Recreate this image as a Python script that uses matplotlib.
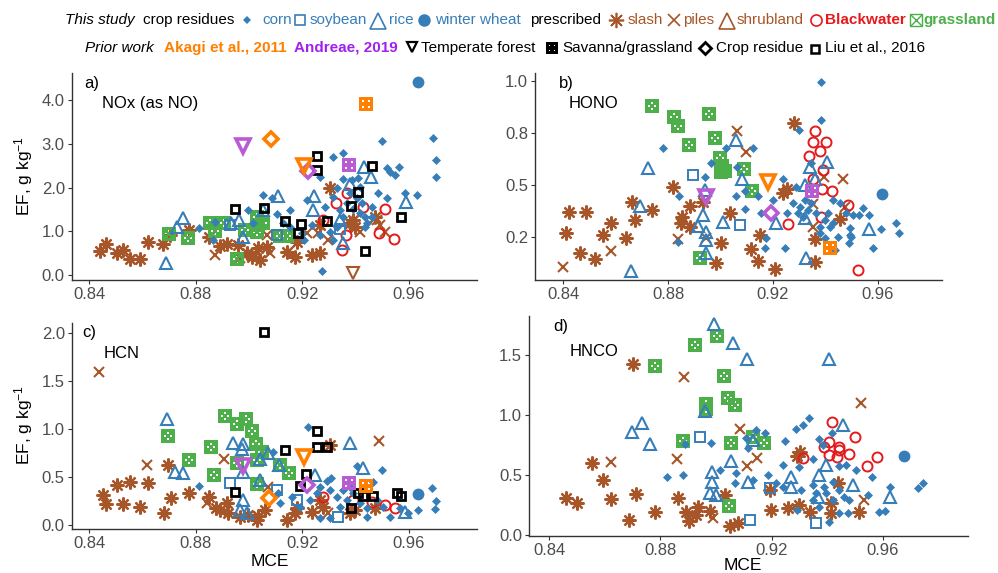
import matplotlib
matplotlib.use('Agg')
import matplotlib.pyplot as plt
from matplotlib.path import Path
from matplotlib.markers import MarkerStyle

plt.rcParams['font.family'] = ['Liberation Sans', 'DejaVu Sans']
plt.rcParams['mathtext.fontset'] = 'custom'
plt.rcParams['mathtext.rm'] = 'Liberation Sans'
plt.rcParams['mathtext.it'] = 'Liberation Sans:italic'
plt.rcParams['mathtext.bf'] = 'Liberation Sans:bold'

# ---------------- data (MCE, EF g/kg) ----------------
# Panel a) NOx (as NO)
a_corn = [(0.8814,1.07),(0.8873,1.22),(0.8866,0.80),(0.8998,1.49),(0.9051,1.83),(0.9085,1.75),(0.9104,1.39),
          (0.9154,1.49),(0.9198,0.95),(0.9206,0.80),(0.9216,1.71),(0.9235,1.14),(0.9266,2.25),(0.9273,0.10),
          (0.9285,1.56),(0.9314,2.70),(0.9354,2.78),(0.9354,2.19),(0.9385,2.17),(0.9410,2.21),(0.9416,2.02),
          (0.9316,1.79),(0.9329,1.98),(0.9498,3.07),(0.9516,2.44),(0.9529,2.36),(0.9548,2.29),(0.9564,2.46),
          (0.9485,1.87),(0.9516,1.75),(0.9585,1.87),(0.9629,1.83),(0.9689,3.14),(0.9701,2.63),(0.9701,2.25),
          (0.9460,1.56),(0.9341,1.49),(0.9366,1.64),(0.9391,1.52),(0.9416,1.41),(0.9435,1.33),(0.9441,1.18),
          (0.9423,1.64),(0.9329,1.10),(0.9304,0.99),(0.9266,0.91),(0.9404,1.75),(0.9354,1.33),(0.9379,1.87),
          (0.9460,1.33),(0.9435,1.10),(0.9154,1.10),(0.9129,1.18),(0.9016,1.18),(0.9316,0.80)]
a_soybean = [(0.8929,1.14),(0.9104,0.91),(0.9341,1.05)]
a_rice = [(0.8688,0.27),(0.8751,1.31),(0.8729,1.10),(0.8964,1.26),(0.8976,0.88),(0.8931,1.18),(0.9110,1.81),
          (0.9054,1.49),(0.9244,1.81),(0.9241,1.49),(0.9431,2.46),(0.9458,2.23),(0.9379,2.08),(0.9341,1.26),
          (0.9354,0.74),(0.9589,1.66)]
a_wheat = [(0.9635,4.40)]
a_slash = [(0.8441,0.56),(0.8464,0.71),(0.8504,0.50),(0.8526,0.57),(0.8554,0.36),(0.8591,0.36),(0.8620,0.76),
           (0.8679,0.72),(0.8704,0.91),(0.8776,1.04),(0.8851,0.88),(0.8891,0.66),(0.8916,0.72),(0.8960,0.69),
           (0.8991,0.50),(0.9013,0.42),(0.9035,0.61),(0.9066,0.65),(0.9041,0.34),(0.9141,0.53),(0.9173,0.42),
           (0.9179,0.76),(0.9235,0.46),(0.9266,0.50),(0.9266,1.14),(0.9304,1.98),(0.9379,1.18),(0.9391,1.26),
           (0.9398,1.10),(0.9473,1.33)]
a_piles = [(0.8873,0.46),(0.9066,0.91),(0.9079,0.51),(0.9216,0.95),(0.9260,0.95),(0.9298,0.80),(0.9416,0.98),
           (0.9491,1.14),(0.9510,0.99),(0.8966,0.38),(0.9479,1.26)]
a_shrub = [(0.9391,0.05)]
a_blackwater = [(0.9348,0.57),(0.9364,0.91),(0.9326,1.64),(0.9366,1.87),(0.9429,1.56),(0.9510,1.52),
                (0.9489,0.97),(0.9545,0.82),(0.9279,1.26)]
a_grass = [(0.8701,0.93),(0.8773,0.85),(0.8854,1.18),(0.8873,1.01),(0.8906,1.20),(0.8954,0.36),(0.8985,1.03),
           (0.9029,1.33),(0.9035,1.14),(0.9054,1.18),(0.9029,0.99),(0.9116,0.90),(0.9141,0.89)]
a_liu = [(0.9254,2.73),(0.9254,2.40),(0.9463,2.49),(0.9410,1.89),(0.9381,1.58),(0.8948,1.50),(0.9058,1.54),
         (0.9135,1.24),(0.9195,1.17),(0.9185,0.95),(0.9294,1.24),(0.9570,1.32),(0.9435,0.56)]
a_akagi = {'forest': (0.9206,2.49), 'savanna': (0.9438,3.90), 'crop': (0.9081,3.11)}
a_andreae = {'forest': (0.8976,2.95), 'savanna': (0.9375,2.51), 'crop': (0.9223,2.38)}

# Panel b) HONO
b_corn = [(0.9384,0.992),(0.9384,0.811),(0.9298,0.763),(0.8781,0.675),(0.8842,0.447),(0.8838,0.226),(0.8940,0.535),
          (0.8965,0.606),(0.9022,0.675),(0.9063,0.587),(0.9124,0.675),(0.9058,0.446),(0.9092,0.383),(0.9092,0.470),
          (0.9143,0.447),(0.9156,0.362),(0.9171,0.194),(0.9175,0.242),(0.9200,0.426),(0.9238,0.530),(0.9247,0.194),
          (0.9253,0.362),(0.9289,0.490),(0.9276,0.410),(0.9302,0.394),(0.9321,0.426),(0.9333,0.378),(0.9346,0.410),
          (0.9365,0.362),(0.9346,0.603),(0.9314,0.346),(0.9295,0.362),(0.9378,0.298),(0.9397,0.330),(0.9378,0.266),
          (0.9397,0.242),(0.9416,0.298),(0.9429,0.426),(0.9410,0.362),(0.9429,0.314),(0.9448,0.250),(0.9454,0.410),
          (0.9490,0.218),(0.9492,0.290),(0.9505,0.354),(0.9498,0.250),(0.9528,0.354),(0.9543,0.386),(0.9566,0.354),
          (0.9581,0.194),(0.9613,0.285),(0.9667,0.314),(0.9680,0.266),(0.9435,0.186),(0.9492,0.258),(0.9479,0.362)]
b_soybean = [(0.8895,0.546),(0.9076,0.306)]
b_rice = [(0.8724,0.583),(0.8692,0.399),(0.8657,0.085),(0.8942,0.474),(0.8933,0.354),(0.8914,0.303),(0.8944,0.274),
          (0.8944,0.234),(0.8944,0.173),(0.9010,0.322),(0.9060,0.715),(0.9081,0.530),(0.9213,0.314),(0.9321,0.498),
          (0.9340,0.587),(0.9359,0.530),(0.9406,0.611),(0.9327,0.146),(0.9321,0.338),(0.9566,0.285)]
b_wheat = [(0.9617,0.454)]
b_slash = [(0.8423,0.370),(0.8413,0.266),(0.8489,0.370),(0.8463,0.173),(0.8521,0.141),(0.8552,0.258),(0.8584,0.314),
           (0.8641,0.242),(0.8664,0.415),(0.8673,0.330),(0.8739,0.378),(0.8819,0.487),(0.8883,0.397),(0.8855,0.346),
           (0.8851,0.314),(0.8883,0.298),(0.8933,0.418),(0.8984,0.122),(0.9003,0.221),(0.9035,0.362),(0.9117,0.189),
           (0.9149,0.258),(0.9143,0.133),(0.9206,0.093),(0.9238,0.458),(0.9253,0.482),(0.9279,0.795),(0.9359,0.130),
           (0.9359,0.239),(0.9454,0.333)]
b_piles = [(0.8398,0.106),(0.8582,0.183),(0.8838,0.237),(0.8946,0.242),(0.9063,0.758),(0.9098,0.659),(0.9352,0.407),
           (0.9352,0.298),(0.9393,0.538),(0.9467,0.526),(0.9473,0.394)]
b_blackwater = [(0.9359,0.760),(0.9352,0.707),(0.9401,0.707),(0.9380,0.663),(0.9337,0.638),(0.9391,0.571),
                (0.9352,0.530),(0.9388,0.482),(0.9426,0.471),(0.9384,0.343),(0.9487,0.402),(0.9258,0.309),(0.9524,0.090)]
b_grass = [(0.8739,0.878),(0.8822,0.824),(0.8838,0.782),(0.8879,0.691),(0.8956,0.840),(0.8980,0.723),(0.8997,0.631),
           (0.9003,0.562),(0.9018,0.567),(0.9007,0.590),(0.9090,0.578),(0.9121,0.470),(0.8921,0.146)]
b_akagi = {'forest': (0.9182,0.511), 'savanna': (0.9416,0.194)}
b_andreae = {'forest': (0.8946,0.442), 'savanna': (0.9350,0.470), 'crop': (0.9194,0.365)}

# Panel c) HCN
c_corn = [(0.8814,0.410),(0.9223,1.024),(0.9091,0.764),(0.9404,0.618),(0.9498,0.573),(0.9688,0.382),(0.9701,0.250),
          (0.9698,0.163),(0.9635,0.156),(0.9598,0.122),(0.9291,0.458),(0.9308,0.486),(0.9160,0.295),(0.9110,0.330),
          (0.9116,0.226),(0.9191,0.191),(0.9229,0.260),(0.9254,0.330),(0.9266,0.069),(0.9304,0.365),(0.9329,0.295),
          (0.9341,0.191),(0.9354,0.365),(0.9366,0.260),(0.9391,0.330),(0.9416,0.226),(0.9441,0.087),(0.9441,0.174),
          (0.9466,0.451),(0.9479,0.260),(0.9504,0.191),(0.9529,0.087),(0.9566,0.174),(0.9304,0.069),(0.9379,0.399),
          (0.9266,0.399)]
c_soybean = [(0.8929,0.441),(0.9104,0.365),(0.9333,0.087),(0.9179,0.260)]
c_rice = [(0.8691,1.101),(0.8723,0.549),(0.8754,0.538),(0.8941,0.858),(0.8976,0.844),(0.8973,0.792),(0.8979,0.556),
          (0.8979,0.260),(0.8966,0.156),(0.8991,0.122),(0.9041,0.469),(0.9041,0.684),(0.9073,0.753),(0.9114,0.625),
          (0.9248,0.521),(0.9379,0.851),(0.9429,0.590),(0.9585,0.139)]
c_wheat = [(0.9635,0.323)]
c_slash = [(0.8451,0.313),(0.8464,0.219),(0.8504,0.417),(0.8529,0.219),(0.8554,0.451),(0.8591,0.191),(0.8623,0.441),
           (0.8681,0.128),(0.8698,0.625),(0.8706,0.285),(0.8775,0.330),(0.8851,0.295),(0.8876,0.174),(0.8891,0.156),
           (0.8916,0.226),(0.8923,0.122),(0.8966,0.087),(0.8998,0.104),(0.9029,0.052),(0.9035,0.094),(0.9060,0.156),
           (0.9141,0.052),(0.9173,0.122),(0.9179,0.174),(0.9235,0.139),(0.9266,0.260),(0.9276,0.191),(0.9304,0.833),
           (0.9379,0.122),(0.9398,0.156),(0.9473,0.174)]
c_piles = [(0.8438,1.597),(0.8616,0.625),(0.8906,0.684),(0.9489,0.878),(0.9073,0.399),(0.8844,0.226),(0.9298,0.122)]
c_blackwater = [(0.9279,0.295),(0.9391,0.260),(0.9460,0.243),(0.9510,0.208),(0.9548,0.174)]
c_grass = [(0.8698,0.927),(0.8775,0.677),(0.8858,0.816),(0.8870,0.521),(0.8910,1.135),(0.8954,1.052),(0.8989,1.104),
           (0.9013,0.983),(0.9026,0.844),(0.9048,0.764),(0.9029,0.677),(0.8954,0.649),(0.9029,0.427),(0.9116,0.625),
           (0.9151,0.538)]
c_liu = [(0.9056,2.014),(0.9254,0.983),(0.9254,0.816),(0.9294,0.816),(0.9135,0.781),(0.9214,0.528),(0.9191,0.410),
         (0.8948,0.347),(0.9410,0.330),(0.9429,0.302),(0.9464,0.302),(0.9383,0.174),(0.9556,0.330),(0.9570,0.302)]
c_akagi = {'forest': (0.9206,0.712), 'savanna': (0.9438,0.406), 'crop': (0.9076,0.285)}
c_andreae = {'forest': (0.8976,0.618), 'savanna': (0.9375,0.441), 'crop': (0.9219,0.417)}

# Panel d) HNCO
d_corn = [(0.8825,0.486),(0.8881,0.500),(0.8887,0.758),(0.8983,0.769),(0.9013,0.542),(0.9073,0.519),(0.9067,0.436),
          (0.9109,0.806),(0.9115,0.722),(0.9143,0.875),(0.9175,0.847),(0.9135,0.458),(0.9187,0.500),(0.9217,0.431),
          (0.9241,0.583),(0.9247,0.786),(0.9289,0.881),(0.9313,0.917),(0.9334,0.972),(0.9298,0.564),(0.9307,0.375),
          (0.9292,0.208),(0.9349,0.631),(0.9372,0.797),(0.9384,0.750),(0.9417,0.853),(0.9468,0.583),(0.9442,0.578),
          (0.9504,0.542),(0.9562,0.481),(0.9624,0.397),(0.9744,0.436),(0.9726,0.389),(0.9586,0.189),(0.9606,0.203),
          (0.9546,0.333),(0.9408,0.111),(0.9444,0.181),(0.9474,0.181),(0.9349,0.292),(0.9360,0.347),(0.9390,0.403),
          (0.9420,0.444),(0.9444,0.375),(0.9462,0.319),(0.9480,0.292),(0.9396,0.347),(0.9372,0.236),(0.9420,0.292),
          (0.9241,0.403),(0.9349,0.417)]
d_soybean = [(0.8941,0.819),(0.9123,0.125),(0.9360,0.103),(0.9195,0.394)]
d_rice = [(0.8992,1.756),(0.9061,1.603),(0.9111,1.467),(0.9408,1.467),(0.8959,1.033),(0.8698,0.861),(0.8734,0.931),
          (0.8762,0.758),(0.9135,0.792),(0.9053,0.617),(0.8987,0.528),(0.8987,0.444),(0.8980,0.347),(0.8999,0.333),
          (0.9115,0.444),(0.9271,0.486),(0.9271,0.403),(0.9370,0.500),(0.9396,0.583),(0.9456,0.917),(0.9492,0.417),
          (0.9624,0.319),(0.9366,0.319)]
d_wheat = [(0.9675,0.661)]
d_slash = [(0.8702,1.425),(0.8460,0.306),(0.8502,0.269),(0.8556,0.603),(0.8594,0.458),(0.8624,0.297),(0.8687,0.125),
           (0.8711,0.339),(0.8780,0.194),(0.8863,0.311),(0.8893,0.194),(0.8903,0.117),(0.8929,0.167),(0.8935,0.231),
           (0.8977,0.203),(0.9031,0.333),(0.9049,0.075),(0.9079,0.103),(0.9199,0.208),(0.9193,0.375),(0.9259,0.222),
           (0.9297,0.250),(0.9301,0.694),(0.9292,0.658),(0.9337,0.194),(0.9414,0.264),(0.9414,0.181),(0.9438,0.431),
           (0.9513,0.194)]
d_piles = [(0.8885,1.314),(0.8622,0.611),(0.8861,0.631),(0.9085,0.883),(0.9111,0.578),(0.9148,0.639),(0.9522,1.103),
           (0.8989,0.139),(0.9534,0.292)]
d_blackwater = [(0.9417,0.944),(0.9408,0.778),(0.9390,0.736),(0.9442,0.736),(0.9444,0.708),(0.9408,0.667),
                (0.9435,0.653),(0.9478,0.675),(0.9501,0.817),(0.9580,0.647),(0.9544,0.578),(0.9313,0.639)]
d_grass = [(0.8780,1.408),(0.8923,1.583),(0.9004,1.658),(0.9028,1.325),(0.9044,1.139),(0.9067,1.083),(0.8965,1.092),
           (0.8965,1.047),(0.8881,0.783),(0.9053,0.769),(0.9135,0.814),(0.9172,0.764),(0.9046,0.244)]

panel_letters = ['a)', 'b)', 'c)', 'd)']
panel_species = ['NOx (as NO)', 'HONO', 'HCN', 'HNCO']
x_ticks = [0.84, 0.88, 0.92, 0.96]
x_ticklabels = ['0.84', '0.88', '0.92', '0.96']
a_yticks = [0.0, 1.0, 2.0, 3.0, 4.0]; a_yticklabels = ['0.0', '1.0', '2.0', '3.0', '4.0']
b_yticks = [0.25, 0.5, 0.75, 1.0];   b_yticklabels = ['0.2', '0.5', '0.8', '1.0']
c_yticks = [0.0, 0.5, 1.0, 1.5, 2.0]; c_yticklabels = ['0.0', '0.5', '1.0', '1.5', '2.0']
d_yticks = [0.0, 0.5, 1.0, 1.5];     d_yticklabels = ['0.0', '0.5', '1.0', '1.5']

# ---------------- styles ----------------
BLUE = '#377EB8'; BROWN = '#A65628'; RED = '#E41A1C'; GREEN = '#4DAF4A'
ORANGE = '#FF7F00'; PURPLE_M = '#B95CD3'; PURPLE_T = '#A020F0'; GREY = '#4D4D4D'

def holed_square(holes, h=0.14):
    verts = [(-1, -1), (1, -1), (1, 1), (-1, 1), (-1, -1)]
    codes = [Path.MOVETO, Path.LINETO, Path.LINETO, Path.LINETO, Path.CLOSEPOLY]
    for cx, cy in holes:
        verts += [(cx - h, cy - h), (cx - h, cy + h), (cx + h, cy + h), (cx + h, cy - h), (cx - h, cy - h)]
        codes += [Path.MOVETO, Path.LINETO, Path.LINETO, Path.LINETO, Path.CLOSEPOLY]
    return Path(verts, codes)

SAV_PATH = holed_square([(-0.42, -0.42), (0.42, -0.42), (-0.42, 0.42), (0.42, 0.42)])
GRASS_PATH = holed_square([(0, 0.42), (0, -0.42), (0.42, 0), (-0.42, 0)], h=0.12)

STY = {
    'slash': dict(marker=(8, 2, 0), ms=10, mew=1.6, mec=BROWN, mfc='none'),
    'piles': dict(marker='x', ms=7.5, mew=1.5, mec=BROWN),
    'shrub': dict(marker='v', ms=8, mew=1.5, mec=BROWN, mfc='none'),
    'grass': dict(marker=MarkerStyle(GRASS_PATH), ms=9.5, mew=0, mfc=GREEN, mec=GREEN),
    'blackwater': dict(marker='o', ms=7.2, mew=1.4, mec=RED, mfc='none'),
    'soybean': dict(marker='s', ms=6.5, mew=1.4, mec=BLUE, mfc='none'),
    'rice': dict(marker='^', ms=8.5, mew=1.5, mec=BLUE, mfc='none'),
    'corn': dict(marker='D', ms=4.3, mew=0.5, mec=BLUE, mfc=BLUE),
    'wheat': dict(marker='o', ms=8.5, mew=0, mfc=BLUE),
    'liu': dict(marker='s', ms=6.3, mew=2.0, mec='black', mfc='none'),
}
PRIOR = {
    'forest': dict(marker='v', ms=10, mew=2.6, mfc='none'),
    'crop': dict(marker='D', ms=7, mew=2.6, mfc='none'),
    'savanna': dict(marker=MarkerStyle(SAV_PATH), ms=10.5, mew=0),
}

W, H = 998, 573
fig = plt.figure(figsize=(W / 100, H / 100), dpi=100)

def box(l, t, r, b):
    return [l / W, 1 - b / H, (r - l) / W, (b - t) / H]

def draw(ax, key, pts):
    if not pts:
        return
    xs = [p[0] for p in pts]; ys = [p[1] for p in pts]
    ax.plot(xs, ys, ls='none', **STY[key])

def draw_prior(ax, d, color):
    for k, (x, y) in d.items():
        kw = dict(PRIOR[k]); kw['mec'] = color
        if k == 'savanna':
            kw['mfc'] = color
        ax.plot([x], [y], ls='none', **kw)

panels = [
    (box(71.7, 73.3, 477, 280), (0.8335, 0.9855), (-0.114, 4.61), a_yticks, a_yticklabels,
     dict(slash=a_slash, piles=a_piles, shrub=a_shrub, grass=a_grass, blackwater=a_blackwater,
          soybean=a_soybean, rice=a_rice, corn=a_corn, wheat=a_wheat, liu=a_liu), a_akagi, a_andreae),
    (box(535, 73.3, 942, 280), (0.8293, 0.9844), (0.042, 1.036), b_yticks, b_yticklabels,
     dict(slash=b_slash, piles=b_piles, grass=b_grass, blackwater=b_blackwater,
          soybean=b_soybean, rice=b_rice, corn=b_corn, wheat=b_wheat), b_akagi, b_andreae),
    (box(71.7, 322.7, 477, 529.3), (0.8335, 0.9855), (-0.045, 2.107), c_yticks, c_yticklabels,
     dict(slash=c_slash, piles=c_piles, blackwater=c_blackwater, grass=c_grass,
          soybean=c_soybean, rice=c_rice, corn=c_corn, wheat=c_wheat, liu=c_liu), c_akagi, c_andreae),
    (box(529, 315.7, 967.7, 536), (0.8328, 0.9905), (-0.008, 1.827), d_yticks, d_yticklabels,
     dict(slash=d_slash, piles=d_piles, grass=d_grass, blackwater=d_blackwater,
          soybean=d_soybean, rice=d_rice, corn=d_corn, wheat=d_wheat), {}, {}),
]

for rect, xl, yl, yt, ytl, series, akagi, andreae in panels:
    ax = fig.add_axes(rect)
    order = ['slash', 'piles', 'shrub', 'grass', 'blackwater', 'soybean', 'rice', 'corn', 'wheat', 'liu']
    for k in order:
        if k in series:
            draw(ax, k, series[k])
    draw_prior(ax, andreae, PURPLE_M)
    draw_prior(ax, akagi, ORANGE)
    ax.set_xlim(*xl); ax.set_ylim(*yl)
    ax.set_xticks(x_ticks); ax.set_xticklabels(x_ticklabels)
    ax.set_yticks(yt); ax.set_yticklabels(ytl)
    for s in ['top', 'right']:
        ax.spines[s].set_visible(False)
    for s in ['left', 'bottom']:
        ax.spines[s].set_color('#333333'); ax.spines[s].set_linewidth(1.0)
    ax.tick_params(length=3, width=0.8, color='#333333', labelcolor=GREY, labelsize=12, pad=2)

def ftext(x, y, s, **kw):
    fig.text(x / W, 1 - y / H, s, **kw)

# panel labels
lab_pos = [(84, 84, 102, 103), (559, 84, 569, 103), (82, 333, 104, 353), (553, 327, 570, 352)]
for (lx, ly, sx, sy), L, sp in zip(lab_pos, panel_letters, panel_species):
    ftext(lx, ly, L, fontsize=12, va='center', ha='left')
    ftext(sx, sy, sp, fontsize=12, va='center', ha='left')

# axis titles
ftext(24, 176, 'EF, g kg$^{-1}$', fontsize=12.5, rotation=90, va='center', ha='center')
ftext(24, 425, 'EF, g kg$^{-1}$', fontsize=12.5, rotation=90, va='center', ha='center')
ftext(270, 562, 'MCE', fontsize=12.5, va='center', ha='center')
ftext(743, 566, 'MCE', fontsize=12.5, va='center', ha='center')

# ---------------- legend ----------------
lax = fig.add_axes([0, 0, 1, 1])
lax.set_xlim(0, W); lax.set_ylim(H, 0); lax.axis('off')
FS = 11
y1, y2 = 20, 48
row1_text = [(65, 'This study', 'black', 'normal', 'italic'), (143, 'crop residues', 'black', 'normal', 'normal'),
             (262, 'corn', BLUE, 'normal', 'normal'), (310, 'soybean', BLUE, 'normal', 'normal'),
             (389, 'rice', BLUE, 'normal', 'normal'), (435, 'winter wheat', BLUE, 'normal', 'normal'),
             (530, 'prescribed', 'black', 'normal', 'normal'), (628, 'slash', BROWN, 'normal', 'normal'),
             (683, 'piles', BROWN, 'normal', 'normal'), (737, 'shrubland', BROWN, 'normal', 'normal'),
             (825, 'Blackwater', RED, 'bold', 'normal'), (923, 'grassland', GREEN, 'bold', 'normal')]
for x, s, c, w, st in row1_text:
    lax.text(x, y1, s, color=c, fontweight=w, fontstyle=st, fontsize=FS, va='center', ha='left')
row2_text = [(85, 'Prior work', 'black', 'normal', 'italic'), (164, 'Akagi et al., 2011', ORANGE, 'bold', 'normal'),
             (294, 'Andreae, 2019', PURPLE_T, 'bold', 'normal'), (421, 'Temperate forest', 'black', 'normal', 'normal'),
             (562, 'Savanna/grassland', 'black', 'normal', 'normal'), (716, 'Crop residue', 'black', 'normal', 'normal'),
             (825, 'Liu et al., 2016', 'black', 'normal', 'normal')]
for x, s, c, w, st in row2_text:
    lax.text(x, y2, s, color=c, fontweight=w, fontstyle=st, fontsize=FS, va='center', ha='left')

leg_markers = [
    (247, y1, dict(marker='D', ms=4.2, mew=0, mfc=BLUE)),
    (300, y1, dict(marker='s', ms=7.5, mew=1.2, mec=BLUE, mfc='none')),
    (378, y1 + 1, dict(marker='^', ms=11, mew=1.2, mec=BLUE, mfc='none')),
    (424, y1, dict(marker='o', ms=9, mew=0, mfc=BLUE)),
    (616, y1, dict(marker=(8, 2, 0), ms=11, mew=1.2, mec=BROWN)),
    (674, y1, dict(marker='x', ms=8.5, mew=1.2, mec=BROWN)),
    (727, y1 + 1, dict(marker='^', ms=11, mew=1.2, mec=BROWN, mfc='none')),
    (816, y1, dict(marker='o', ms=8, mew=1.2, mec=RED, mfc='none')),
    (916, y1, dict(marker='s', ms=8, mew=1.0, mec=GREEN, mfc='none')),
    (916, y1, dict(marker='x', ms=8, mew=1.0, mec=GREEN)),
    (412, y2 - 1, dict(marker='v', ms=7.5, mew=1.6, mec='black', mfc='none')),
    (552, y2, dict(marker=MarkerStyle(SAV_PATH), ms=8, mew=0, mfc='black')),
    (705, y2, dict(marker='D', ms=6.5, mew=2.0, mec='black', mfc='none')),
    (815, y2 + 1, dict(marker='s', ms=5.5, mew=1.8, mec='black', mfc='none')),
]
for x, y, kw in leg_markers:
    lax.plot([x], [y], ls='none', **kw)

fig.savefig('out.png', dpi=100)
